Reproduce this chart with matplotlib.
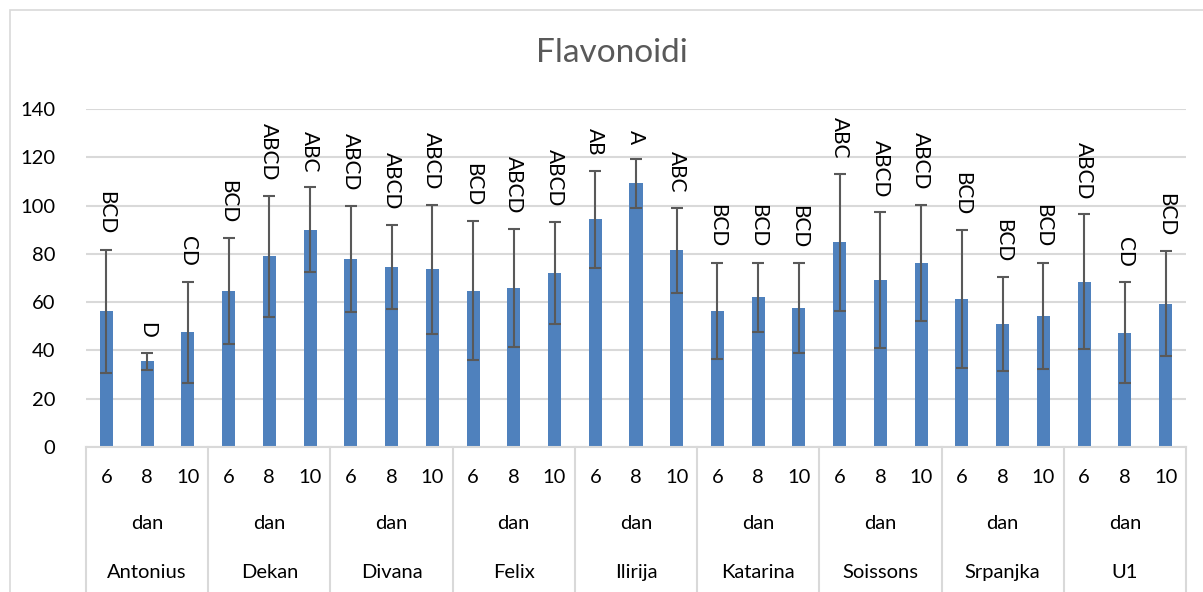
import numpy as np
import matplotlib.pyplot as plt
from matplotlib.lines import Line2D
from matplotlib.patches import Rectangle

plt.rcParams['font.family'] = ['Lato', 'DejaVu Sans']

sorte = ['Antonius', 'Dekan', 'Divana', 'Felix', 'Ilirija', 'Katarina', 'Soissons', 'Srpanjka', 'U1']
dani = ['6', '8', '10']

vrijednosti = [56.3, 35.5, 47.5,
               64.5, 79.0, 90.0,
               78.0, 74.5, 73.7,
               64.8, 65.9, 72.1,
               94.3, 109.2, 81.5,
               56.3, 62.1, 57.6,
               84.8, 69.2, 76.2,
               61.2, 51.0, 54.4,
               68.4, 47.4, 59.4]
greske = [25.5, 3.5, 21.0,
          22.0, 25.0, 17.5,
          22.0, 17.5, 26.7,
          28.7, 24.6, 21.1,
          20.0, 10.0, 17.7,
          20.0, 14.3, 18.5,
          28.4, 28.0, 24.2,
          28.6, 19.4, 22.0,
          28.0, 20.9, 21.7]
slova = ['BCD', 'D', 'CD',
         'BCD', 'ABCD', 'ABC',
         'ABCD', 'ABCD', 'ABCD',
         'BCD', 'ABCD', 'ABCD',
         'AB', 'A', 'ABC',
         'BCD', 'BCD', 'BCD',
         'ABC', 'ABCD', 'ABCD',
         'BCD', 'BCD', 'BCD',
         'ABCD', 'CD', 'BCD']

fig = plt.figure(figsize=(12.03, 5.92), dpi=100)
ax = fig.add_axes([86 / 1203, 1 - 447 / 592, 1100 / 1203, 338 / 592])

# okvir grafa
fig.patches.append(Rectangle((10 / 1203, -0.1), 1.2, (592 - 10) / 592 + 0.1,
                             transform=fig.transFigure, fill=False,
                             edgecolor='#d9d9d9', linewidth=1.2))

x = np.arange(len(vrijednosti))
ax.bar(x, vrijednosti, width=0.32, color='#4f81bd', zorder=2)
ax.errorbar(x, vrijednosti, yerr=greske, fmt='none', ecolor='#595959',
            elinewidth=1.5, capsize=4, capthick=1.5, zorder=3)

for xi, v, e, s in zip(x, vrijednosti, greske, slova):
    ax.annotate(s, (xi, v + e), xytext=(0, 11), textcoords='offset points',
                rotation=270, ha='center', va='bottom', fontsize=15, color='black')

ax.set_xlim(-0.5, len(vrijednosti) - 0.5)
ax.set_ylim(0, 140)
ax.set_yticks(range(0, 141, 20))
ax.tick_params(axis='y', length=0, labelsize=14.5, pad=22)
ax.grid(axis='y', color='#d9d9d9', linewidth=1.5, zorder=0)
ax.set_xticks([])
for sp in ['top', 'right', 'left']:
    ax.spines[sp].set_visible(False)
ax.spines['bottom'].set_color('#d9d9d9')
ax.spines['bottom'].set_linewidth(1.5)

# visestruka os kategorija
trans = ax.get_xaxis_transform()
for i, ime in enumerate(sorte):
    for j, d in enumerate(dani):
        ax.text(i * 3 + j, -0.09, d, transform=trans, ha='center', va='center', fontsize=14.5)
    ax.text(i * 3 + 1, -0.225, 'dan', transform=trans, ha='center', va='center', fontsize=14.5)
    ax.text(i * 3 + 1, -0.37, ime, transform=trans, ha='center', va='center', fontsize=14.5)
for k in range(len(sorte) + 1):
    ax.add_line(Line2D([k * 3 - 0.5, k * 3 - 0.5], [0, -0.45], transform=trans,
                       color='#d9d9d9', linewidth=1.5, clip_on=False))

fig.text(612 / 1203, 1 - 53 / 592, 'Flavonoidi', ha='center', va='center',
         fontsize=24, color='#595959')

fig.savefig('out.png', dpi=100)
